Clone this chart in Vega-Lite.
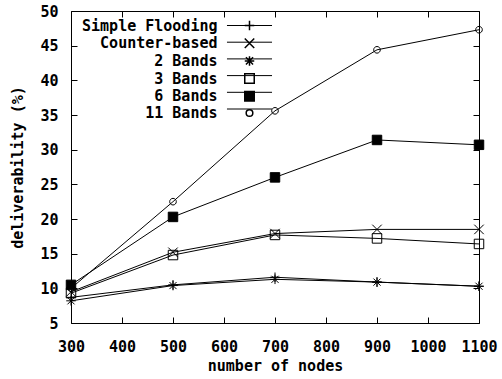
{
  "$schema": "https://vega.github.io/schema/vega-lite/v6.json",
  "width": 408,
  "height": 312,
  "autosize": {"type": "none"},
  "padding": {"left": 71, "top": 11, "right": 23, "bottom": 56},
  "background": "white",
  "config": {
    "font": "DejaVu Sans Mono",
    "view": {"stroke": "black", "strokeWidth": 1},
    "axis": {
      "labelFont": "DejaVu Sans Mono",
      "labelFontWeight": "bold",
      "labelFontSize": 15,
      "labelColor": "black",
      "labelOverlap": false,
      "labelFlush": false,
      "titleFont": "DejaVu Sans Mono",
      "titleFontWeight": "bold",
      "titleFontSize": 15,
      "titleColor": "black",
      "domain": false,
      "grid": false,
      "tickColor": "black",
      "tickSize": 6,
      "tickWidth": 1
    },
    "legend": {
      "labelFont": "DejaVu Sans Mono",
      "labelFontWeight": "bold",
      "labelFontSize": 15,
      "labelColor": "black",
      "padding": 0
    }
  },
  "data": {
    "values": [
      {"series": "Simple Flooding", "nodes": 300, "value": 8.7},
      {"series": "Simple Flooding", "nodes": 500, "value": 10.5},
      {"series": "Simple Flooding", "nodes": 700, "value": 11.6},
      {"series": "Simple Flooding", "nodes": 900, "value": 10.9},
      {"series": "Simple Flooding", "nodes": 1100, "value": 10.3},
      {"series": "Counter-based", "nodes": 300, "value": 9.5},
      {"series": "Counter-based", "nodes": 500, "value": 15.2},
      {"series": "Counter-based", "nodes": 700, "value": 17.9},
      {"series": "Counter-based", "nodes": 900, "value": 18.5},
      {"series": "Counter-based", "nodes": 1100, "value": 18.5},
      {"series": "2 Bands", "nodes": 300, "value": 8.2},
      {"series": "2 Bands", "nodes": 500, "value": 10.4},
      {"series": "2 Bands", "nodes": 700, "value": 11.3},
      {"series": "2 Bands", "nodes": 900, "value": 10.9},
      {"series": "2 Bands", "nodes": 1100, "value": 10.3},
      {"series": "3 Bands", "nodes": 300, "value": 9.3},
      {"series": "3 Bands", "nodes": 500, "value": 14.8},
      {"series": "3 Bands", "nodes": 700, "value": 17.7},
      {"series": "3 Bands", "nodes": 900, "value": 17.2},
      {"series": "3 Bands", "nodes": 1100, "value": 16.4},
      {"series": "6 Bands", "nodes": 300, "value": 10.5},
      {"series": "6 Bands", "nodes": 500, "value": 20.3},
      {"series": "6 Bands", "nodes": 700, "value": 26.0},
      {"series": "6 Bands", "nodes": 900, "value": 31.4},
      {"series": "6 Bands", "nodes": 1100, "value": 30.7},
      {"series": "11 Bands", "nodes": 300, "value": 10.0},
      {"series": "11 Bands", "nodes": 500, "value": 22.5},
      {"series": "11 Bands", "nodes": 700, "value": 35.6},
      {"series": "11 Bands", "nodes": 900, "value": 44.4},
      {"series": "11 Bands", "nodes": 1100, "value": 47.3}
    ]
  },
  "layer": [
    {
      "mark": {"type": "line", "strokeWidth": 1},
      "encoding": {
        "x": {
          "field": "nodes",
          "type": "quantitative",
          "scale": {"domain": [300, 1100], "nice": false, "zero": false},
          "axis": {"title": "number of nodes", "orient": "bottom", "ticks": false, "format": "d", "values": [300, 400, 500, 600, 700, 800, 900, 1000, 1100], "labelPadding": 16, "titlePadding": 4}
        },
        "y": {
          "field": "value",
          "type": "quantitative",
          "scale": {"domain": [5, 50], "nice": false, "zero": false},
          "axis": {"title": "deliverability (%)", "orient": "left", "ticks": false, "values": [5, 10, 15, 20, 25, 30, 35, 40, 45, 50], "labelPadding": 13, "titlePadding": 14}
        },
        "color": {
          "field": "series",
          "type": "nominal",
          "sort": null,
          "scale": {"range": ["black"]},
          "legend": {
            "title": null,
            "orient": "none",
            "legendX": 153,
            "legendY": 7,
            "symbolType": "M-4.75,0H4.75",
            "symbolSize": 90,
            "symbolStrokeColor": "black",
            "symbolStrokeWidth": 1,
            "labelAlign": "right",
            "labelOffset": -39.5,
            "labelExpr": "''",
            "symbolOffset": 18,
            "rowPadding": 0.7
          }
        }
      }
    },
    {
      "mark": {"type": "point", "filled": false, "stroke": "black", "strokeWidth": 1, "size": 90, "opacity": 1},
      "encoding": {
        "x": {"field": "nodes", "type": "quantitative", "axis": null},
        "y": {"field": "value", "type": "quantitative", "axis": null},
        "shape": {
          "field": "series",
          "sort": null,
          "scale": {
            "domain": ["Simple Flooding", "Counter-based", "2 Bands", "3 Bands", "6 Bands", "11 Bands"],
            "range": [
              "M-1,0H1M0,-1V1",
              "M-1,-1L1,1M-1,1L1,-1",
              "M-1,0H1M0,-1V1M-0.75,-0.75L0.75,0.75M-0.75,0.75L0.75,-0.75",
              "M-1,-1H1V1H-1Z",
              "M-1,-1H1V1H-1Z",
              "M0.7,0A0.7,0.7 0 1 1 -0.7,0A0.7,0.7 0 1 1 0.7,0Z"
            ]
          },
          "legend": {
            "title": null,
            "orient": "none",
            "legendX": 153,
            "legendY": 7,
            "symbolSize": 90,
            "labelAlign": "right",
            "labelOffset": -39.5,
            "symbolOffset": 18,
            "rowPadding": 0.7
          }
        },
        "fill": {
          "field": "series",
          "sort": null,
          "scale": {
            "domain": ["Simple Flooding", "Counter-based", "2 Bands", "3 Bands", "6 Bands", "11 Bands"],
            "range": ["transparent", "transparent", "transparent", "transparent", "black", "transparent"]
          },
          "legend": null
        }
      }
    },
    {
      "mark": {"type": "point", "opacity": 0},
      "encoding": {
        "x": {
          "field": "nodes",
          "type": "quantitative",
          "axis": {"orient": "top", "labels": false, "title": null, "offset": -6, "values": [300, 400, 500, 600, 700, 800, 900, 1000, 1100]}
        },
        "y": {
          "field": "value",
          "type": "quantitative",
          "axis": {"orient": "right", "labels": false, "title": null, "offset": -6, "values": [5, 10, 15, 20, 25, 30, 35, 40, 45, 50]}
        }
      }
    },
    {
      "mark": {"type": "point", "opacity": 0},
      "encoding": {
        "x": {
          "field": "nodes",
          "type": "quantitative",
          "axis": {"orient": "bottom", "labels": false, "title": null, "offset": -6, "values": [300, 400, 500, 600, 700, 800, 900, 1000, 1100]}
        },
        "y": {
          "field": "value",
          "type": "quantitative",
          "axis": {"orient": "left", "labels": false, "title": null, "offset": -6, "values": [5, 10, 15, 20, 25, 30, 35, 40, 45, 50]}
        }
      }
    }
  ],
  "resolve": {"axis": {"x": "independent", "y": "independent"}}
}
